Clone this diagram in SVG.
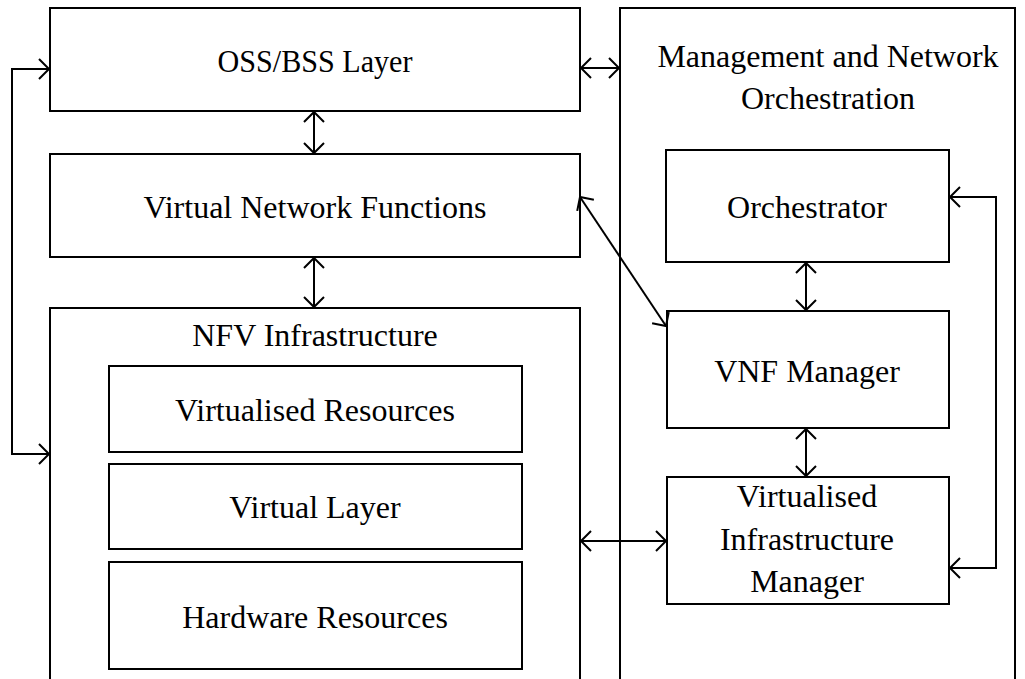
<svg xmlns="http://www.w3.org/2000/svg" width="1025" height="679" viewBox="0 0 1025 679">
<defs>
<style>
.box{fill:#fff;stroke:#000;stroke-width:2}
.t{font-family:"Liberation Serif","Times New Roman",serif;font-size:32px;fill:#000;text-anchor:middle}
.c{fill:none;stroke:#000;stroke-width:2}
</style>
<marker id="ah" markerUnits="userSpaceOnUse" markerWidth="24" markerHeight="24" viewBox="-12 -12 24 24" refX="0" refY="0" orient="auto-start-reverse">
<path d="M-10,-10 L0,0 L-10,10" fill="none" stroke="#000" stroke-width="2"/>
</marker>
</defs>
<rect width="1025" height="679" fill="#fff"/>
<g id="oss-bss">
<rect class="box" x="50" y="8" width="530" height="103"/>
<text class="t" x="315" y="72" textLength="195" lengthAdjust="spacingAndGlyphs">OSS/BSS Layer</text>
</g>
<g id="mano">
<rect class="box" x="620" y="8" width="395" height="690"/>
<text class="t" x="828" y="67">Management and Network</text>
<text class="t" x="828" y="109">Orchestration</text>
</g>
<g id="vnf">
<rect class="box" x="50" y="154" width="530" height="103"/>
<text class="t" x="315" y="218">Virtual Network Functions</text>
</g>
<g id="nfvi">
<rect class="box" x="50" y="308" width="530" height="390"/>
<text class="t" x="315" y="346">NFV Infrastructure</text>
</g>
<g id="virtualised-resources">
<rect class="box" x="109" y="366" width="413" height="86"/>
<text class="t" x="315" y="421">Virtualised Resources</text>
</g>
<g id="virtual-layer">
<rect class="box" x="109" y="464" width="413" height="85"/>
<text class="t" x="315" y="518">Virtual Layer</text>
</g>
<g id="hardware-resources">
<rect class="box" x="109" y="562" width="413" height="107"/>
<text class="t" x="315" y="628">Hardware Resources</text>
</g>
<g id="orchestrator">
<rect class="box" x="666" y="150" width="283" height="112"/>
<text class="t" x="807" y="218">Orchestrator</text>
</g>
<g id="vnf-manager">
<rect class="box" x="667" y="311" width="282" height="117"/>
<text class="t" x="807" y="382">VNF Manager</text>
</g>
<g id="vim">
<rect class="box" x="667" y="477" width="282" height="127"/>
<text class="t" x="807" y="507">Virtualised</text>
<text class="t" x="807" y="550">Infrastructure</text>
<text class="t" x="807" y="592">Manager</text>
</g>
<g id="connectors">
<line class="c" x1="581" y1="68" x2="619" y2="68" marker-start="url(#ah)" marker-end="url(#ah)"/>
<line class="c" x1="314" y1="112" x2="314" y2="153" marker-start="url(#ah)" marker-end="url(#ah)"/>
<line class="c" x1="314" y1="258" x2="314" y2="307" marker-start="url(#ah)" marker-end="url(#ah)"/>
<path class="c" d="M49,69 H12 V454 H49" marker-start="url(#ah)" marker-end="url(#ah)"/>
<line class="c" x1="580" y1="197" x2="666" y2="326" marker-start="url(#ah)" marker-end="url(#ah)"/>
<line class="c" x1="806" y1="263" x2="806" y2="310" marker-start="url(#ah)" marker-end="url(#ah)"/>
<line class="c" x1="806" y1="429" x2="806" y2="476" marker-start="url(#ah)" marker-end="url(#ah)"/>
<path class="c" d="M950,197 H996 V568 H950" marker-start="url(#ah)" marker-end="url(#ah)"/>
<line class="c" x1="581" y1="541" x2="666" y2="541" marker-start="url(#ah)" marker-end="url(#ah)"/>
</g>
</svg>
